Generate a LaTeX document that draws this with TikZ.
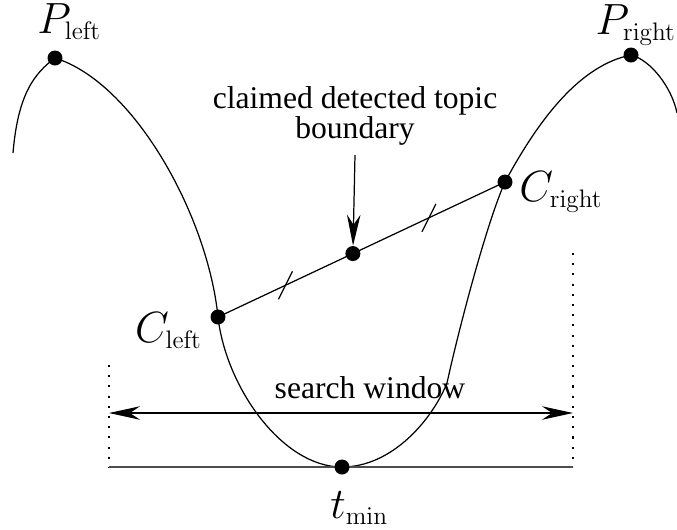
\documentclass[tikz,border=0pt]{standalone}
\usepackage[no-math]{fontspec}
\setmainfont{Liberation Serif}
\usepackage{tikz}
\usetikzlibrary{arrows.meta, calc}
\DeclareMathSizes{25}{25}{15}{10}

\begin{document}
\begin{tikzpicture}[
    x=0.02cm, y=-0.02cm,
    curve/.style={line width=0.7pt, black},
    dot/.style={circle, fill=black, inner sep=0pt, minimum size=0.3cm},
    lbl/.style={inner sep=0pt, font=\fontsize{25}{28}\selectfont},
    txt/.style={inner sep=0pt, align=center, font=\fontsize{18}{17}\selectfont},
    arr/.style={-{Stealth[length=0.62cm, width=0.27cm, inset=0.2cm]}, line width=0.7pt},
    tick/.style={line width=0.7pt},
    guide/.style={line width=0.9pt, dash pattern=on 1.2pt off 4.6pt}
]
    \useasboundingbox (0,0) rectangle (677,529);

    % Key points
    \coordinate (pl) at (55,58);
    \coordinate (pr) at (631,55);
    \coordinate (cl) at (218,317);
    \coordinate (cr) at (505,182);
    \coordinate (tmin) at (342,467);
    \coordinate (mid) at ($(cl)!0.47!(cr)$);
    \coordinate (bend) at (447,383);

    % Curve
    \draw[curve] (13,153) .. controls +(5,-60) and +(-20,15) .. (pl)
        .. controls +(80,25) and +(-10,-100) .. (cl)
        .. controls +(8,70) and +(-60,0) .. (tmin)
        .. controls +(50,0) and +(-15,37) .. (bend)
        .. controls +(12,-55) and +(-18,40) .. (cr)
        .. controls +(35,-65) and +(-50,10) .. (pr)
        .. controls +(20,5) and +(-5,-25) .. (677,113);

    % Window
    \coordinate (wl) at (109,413);
    \coordinate (wr) at (573,413);
    \coordinate (wlt) at (109,365);
    \coordinate (wlb) at (109,467);
    \coordinate (wrt) at (573,253);
    \coordinate (wrb) at (573,467);
    \draw[guide] (wlt) -- (wlb);
    \draw[guide] (wrt) -- (wrb);
    \draw[line width=1.1pt, black!70] (wlb) -- (wrb);
    \draw[arr, {Stealth[length=0.62cm, width=0.27cm, inset=0.2cm]}-{Stealth[length=0.62cm, width=0.27cm, inset=0.2cm]}] (wl) -- (wr);
    \node[txt] (srch) at (370,388) {search window};

    % Chord and ticks
    \draw[curve] (cl) -- (cr);
    \coordinate (t1) at ($(cl)!0.5!(mid)$);
    \coordinate (t2) at ($(mid)!0.5!(cr)$);
    \draw[tick] ([shift={(-7,14)}]t1) -- ([shift={(7,-14)}]t1);
    \draw[tick] ([shift={(-7,14)}]t2) -- ([shift={(7,-14)}]t2);

    % Dots
    \node[dot] (pldot) at (pl) {};
    \node[dot] (prdot) at (pr) {};
    \node[dot] (cldot) at (cl) {};
    \node[dot] (crdot) at (cr) {};
    \node[dot] (middot) at (mid) {};
    \node[dot] (tmindot) at (tmin) {};

    % Labels
    \node[lbl, anchor=base east] (prlbl) at (676,34) {$P_{\mathrm{right}}$};
    \node[lbl, anchor=base west] (pllbl) at (37,33) {$P_{\mathrm{left}}$};
    \node[lbl, anchor=base west] (crlbl) at (519,201) {$C_{\mathrm{right}}$};
    \node[lbl, anchor=base east] (cllbl) at (202,342) {$C_{\mathrm{left}}$};
    \node[lbl, anchor=base west] (tminlbl) at (330,518) {$t_{\mathrm{min}}$};

    % Claimed boundary
    \node[txt] (claim) at (355,116) {claimed detected topic\\boundary};
    \coordinate (arrtop) at (355,155);
    \draw[arr] (arrtop) -- (middot);
\end{tikzpicture}
\end{document}
